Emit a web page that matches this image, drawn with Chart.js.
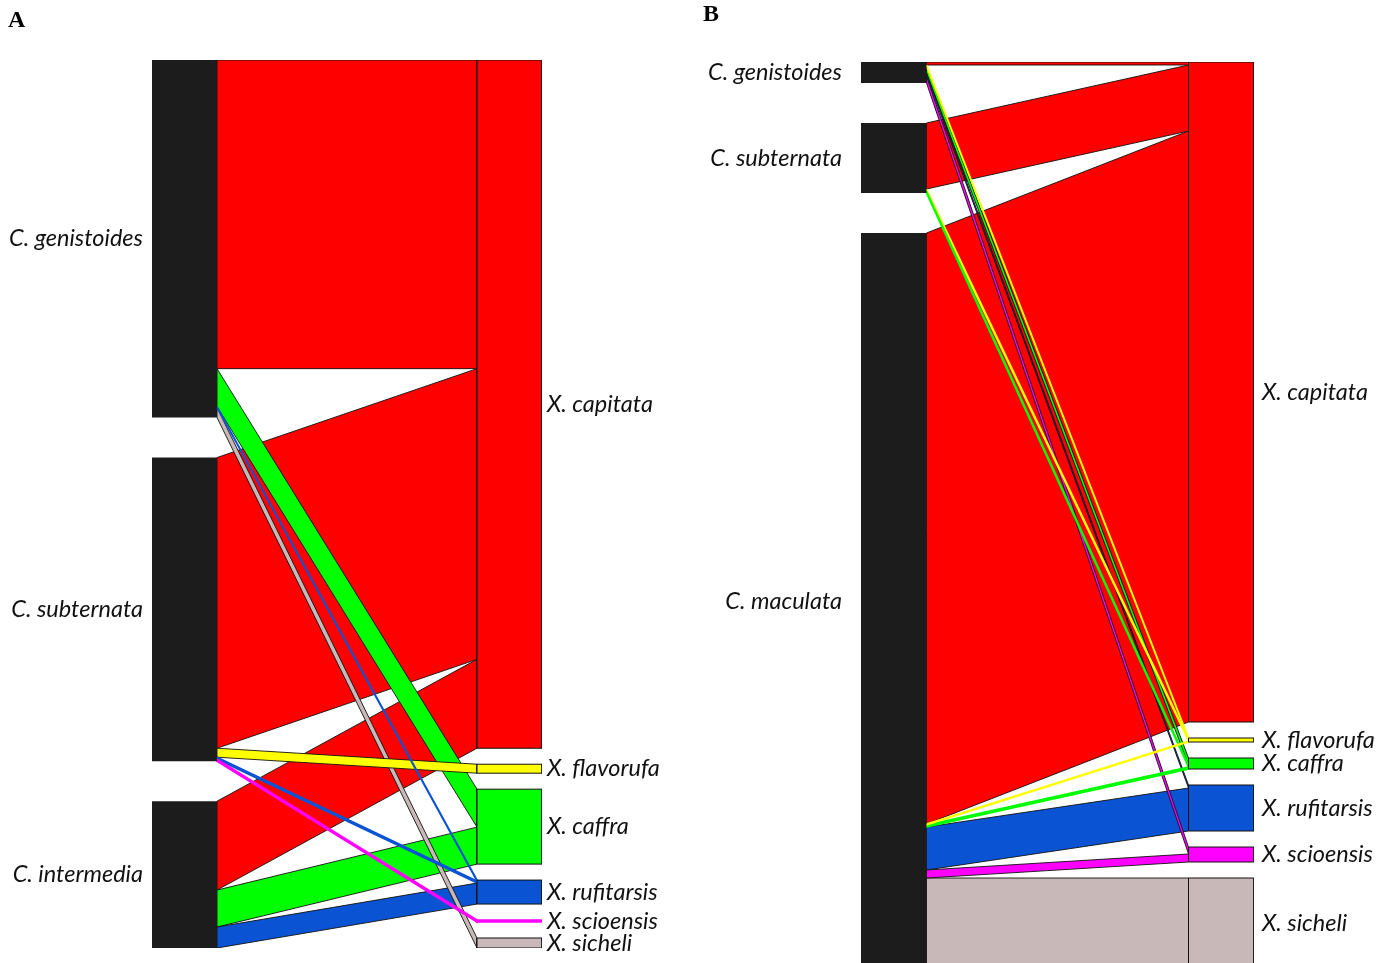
<!DOCTYPE html>
<html><head><meta charset="utf-8">
<script src="https://cdn.jsdelivr.net/npm/chart.js@4/dist/chart.umd.min.js"></script>
<style>
html,body{margin:0;padding:0;background:#fff;overflow:hidden}
#wrap{position:relative;width:1392px;height:963px;overflow:hidden;background:#fff}
#cA{position:absolute;left:8px;top:0}
#cB{position:absolute;left:703px;top:0}
</style></head><body>
<div id="wrap"><canvas id="cA" width="692" height="963"></canvas><canvas id="cB" width="689" height="969"></canvas></div>
<script>
// ---- data ----
const targetNames = ['X. capitata','X. flavorufa','X. caffra','X. rufitarsis','X. scioensis','X. sicheli'];
const targetColors = ['#ff0000','#ffff00','#00ff00','#0a54d4','#ff00ff','#c8b8b8'];

const sourcesA = ['C. genistoides','C. subternata','C. intermedia'];
// values per target (same order as targetNames)
const genistoidesA = [309, 0, 38, 1, 0, 10];
const subternataA  = [291, 9, 0, 2, 2, 0];
const intermediaA  = [89, 0, 37, 21, 0, 0];

const sourcesB = ['C. genistoides','C. subternata','C. maculata'];
const genistoidesB = [3, 1, 7, 3, 7, 0];
const subternataB  = [66, 2, 2, 0, 0, 0];
const maculataB    = [591, 1, 2, 43, 8, 91];

// ---- layout constants (style) ----
const GAP_TOTAL = 80;
const NODE_W = 65, FLOW_W = 260, X_MAX = NODE_W*2 + FLOW_W;
const SOURCE_COLOR = '#1c1c1c';
const EDGE = '#111111';
const labelFont = {family:'Lato', size:23.5, style:'italic'};

function sum(a){return a.reduce((s,v)=>s+v,0);}
function rect(x0,x1,y0,y1){return [{x:x0,y:y0},{x:x1,y:y0},{x:x1,y:y1},{x:x0,y:y1},{x:x0,y:y0}];}

function buildPanel(matrix){
  const nS = matrix.length, nT = targetNames.length;
  const srcTot = matrix.map(sum);
  const tgtTot = targetNames.map((_,j)=>sum(matrix.map(r=>r[j])));
  const total = sum(srcTot);
  const H = total + GAP_TOTAL;
  const sGap = GAP_TOTAL/(nS-1), tGap = GAP_TOTAL/(nT-1);
  const sY=[], tY=[]; let y=0;
  srcTot.forEach(v=>{sY.push(y); y+=v+sGap;});
  y=0; tgtTot.forEach(v=>{tY.push(y); y+=v+tGap;});
  const start = matrix.map(()=>[]), end = matrix.map(()=>[]);
  for(let i=0;i<nS;i++){let c=sY[i]; for(let j=0;j<nT;j++){start[i][j]=c; c+=matrix[i][j];}}
  for(let j=0;j<nT;j++){let c=tY[j]; for(let i=0;i<nS;i++){end[i][j]=c; c+=matrix[i][j];}}
  const flows=[];
  for(let i=0;i<nS;i++)for(let j=0;j<nT;j++){const v=matrix[i][j]; if(v>0) flows.push({i,j,v});}
  flows.sort((a,b)=>b.v-a.v);
  const ds=[];
  const xa=NODE_W, xb=NODE_W+FLOW_W;
  flows.forEach(f=>{
    const y0=start[f.i][f.j], y1=end[f.i][f.j], col=targetColors[f.j];
    const thin = f.v<=2;
    ds.push({data:[{x:xa,y:y0},{x:xb,y:y1},{x:xb,y:y1+f.v},{x:xa,y:y0+f.v},{x:xa,y:y0}],
      backgroundColor:col, borderColor: thin?col:EDGE, borderWidth: thin?1.6:0.9});
  });
  srcTot.forEach((v,i)=>{
    ds.push({data:rect(0,NODE_W,sY[i],sY[i]+v),backgroundColor:SOURCE_COLOR,borderColor:SOURCE_COLOR,borderWidth:0});
  });
  tgtTot.forEach((v,j)=>{
    const thin=v<=2;
    ds.push({data:rect(xb,X_MAX,tY[j],tY[j]+v),backgroundColor:targetColors[j],borderColor:thin?targetColors[j]:EDGE,borderWidth:thin?1.6:1});
  });
  ds.forEach((d,k)=>{Object.assign(d,{showLine:true,fill:'shape',pointRadius:0,pointHoverRadius:0,tension:0,order:-k});});
  return {ds,H,sC:srcTot.map((v,i)=>sY[i]+v/2),tC:tgtTot.map((v,j)=>tY[j]+v/2)};
}

function noPad(a){a.paddingTop=0;a.paddingBottom=0;a.paddingLeft=0;a.paddingRight=0;}

function makeChart(id, title, sourceNames, matrix, cfg){
  const p = buildPanel(matrix);
  const canvas = document.getElementById(id);
  new Chart(canvas.getContext('2d'),{
    type:'scatter',
    data:{datasets:p.ds},
    options:{
      responsive:false, animation:false, events:[],
      layout:{padding:{top:0,bottom:cfg.padBottom,left:0,right:0}},
      plugins:{legend:{display:false},tooltip:{enabled:false},
        title:{display:true,text:title,align:'start',color:'#000',
          font:{family:'Liberation Serif',size:24,weight:'bold'},
          padding:{top:cfg.titleTop,bottom:cfg.titleBottom}}},
      scales:{
        x:{type:'linear',min:0,max:X_MAX,display:false},
        y:{type:'linear',position:'left',min:0,max:p.H,reverse:true,
          grid:{display:false,drawTicks:false},border:{display:false},
          afterBuildTicks:a=>{a.ticks=p.sC.map(v=>({value:v}));},
          afterFit:a=>{a.width=cfg.leftW; noPad(a);},
          ticks:{autoSkip:false,padding:cfg.leftPad,font:labelFont,color:'#111',callback:(v,i)=>sourceNames[i]}},
        y2:{type:'linear',position:'right',min:0,max:p.H,reverse:true,
          grid:{display:false,drawTicks:false},border:{display:false},
          afterBuildTicks:a=>{a.ticks=p.tC.map(v=>({value:v}));},
          afterFit:a=>{a.width=cfg.rightW; noPad(a);},
          ticks:{autoSkip:false,padding:cfg.rightPad,font:labelFont,color:'#111',callback:(v,i)=>targetNames[i]}}
      }
    }
  });
}

makeChart('cA','A',sourcesA,[genistoidesA,subternataA,intermediaA],
  {padBottom:15,titleTop:6,titleBottom:25.2,leftW:144,rightW:158,leftPad:9,rightPad:5});
makeChart('cB','B',sourcesB,[genistoidesB,subternataB,maculataB],
  {padBottom:0,titleTop:0,titleBottom:33.2,leftW:158,rightW:138,leftPad:19,rightPad:8});
</script>
</body></html>
